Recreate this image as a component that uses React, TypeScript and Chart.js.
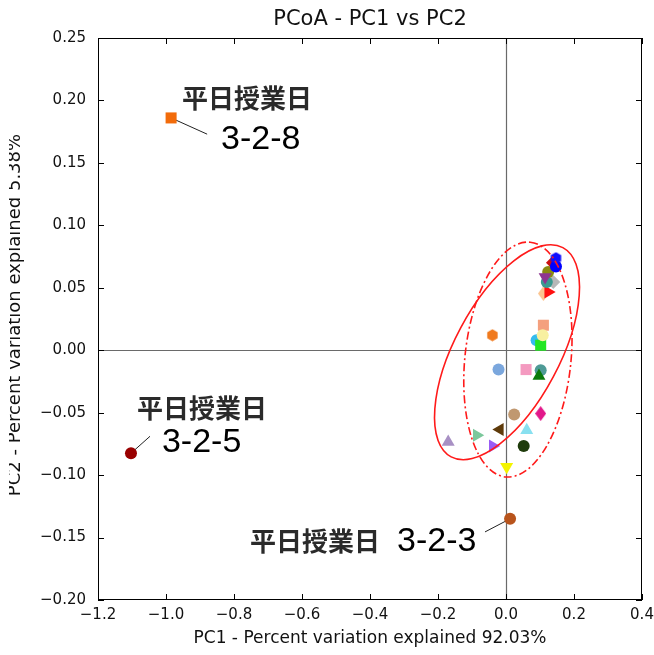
import React, { useEffect, useRef } from "react";
import { Chart, registerables } from "chart.js";

Chart.register(...registerables);

// PCoA coordinates of each sample (PC1, PC2)
const pc1 = [
  -0.985, -1.103, 0.012,
  0.090, 0.110, 0.102, 0.108,
  -0.040, -0.022, 0.059, 0.102, 0.097,
  0.102, 0.024, -0.018, 0.061, -0.086, -0.170, -0.039, 0.052, 0.002,
  0.110, 0.124, 0.139, 0.120, 0.124, 0.115, 0.138, 0.147, 0.147,
];
const pc2 = [
  0.186, -0.0825, -0.135,
  0.008, 0.020, 0.004, 0.012,
  0.012, -0.0155, -0.0155, -0.016, -0.0206,
  -0.0507, -0.0515, -0.0635, -0.064, -0.068, -0.0734, -0.0766, -0.0766, -0.0934,
  0.0454, 0.0467, 0.0547, 0.0547, 0.0627, 0.0587, 0.070, 0.067, 0.0737,
];

// marker colour, shape and rotation for each sample
const markerColors = [
  "#f26b0a", "#990000", "#b8541c",
  "#33bbee", "#f4a07e", "#22e622", "#f8f0a0",
  "#f07a1e", "#7ba7dd", "#f49ac0", "#4e9a96", "#0a7a0a",
  "#e2188a", "#c09870", "#5e3a0a", "#88e0f0", "#7cc89c", "#a890c4", "#9a5cf5", "#1f3c0c", "#f4f400",
  "#fcc590", "#ff1010", "#b8b8b8", "#3a9a90", "#8a8a10", "#8e3590", "#cc1010", "#0000ff", "#1010ff",
];
const markerShapes = [
  "rect", "circle", "circle",
  "circle", "rect", "rect", "circle",
  "hexagon", "circle", "rect", "circle", "triangle",
  "thinDiamond", "circle", "triangle", "triangle", "triangle", "triangle", "triangle", "circle", "triangle",
  "thinDiamond", "triangle", "rectRot", "circle", "circle", "triangle", "rectRot", "circle", "hexagon",
];
const markerRotations = [
  0, 0, 0,
  0, 0, 0, 0,
  0, 0, 0, 0, 0,
  0, 0, -90, 0, 90, 0, 90, 0, 180,
  0, 90, 0, 0, 0, 180, 0, 0, 0,
];

// axis ticks
const xTickValues = [-1.2, -1.0, -0.8, -0.6, -0.4, -0.2, 0.0, 0.2, 0.4];
const yTickValues = [-0.2, -0.15, -0.1, -0.05, 0.0, 0.05, 0.1, 0.15, 0.2, 0.25];

// text
const chartTitle = "PCoA - PC1 vs PC2";
const xAxisTitle = "PC1 - Percent variation explained 92.03%";
const yAxisTitle = "PC2 - Percent variation explained 5.38%";
const calloutCategory = "平日授業日";
const calloutIds = ["3-2-8", "3-2-5", "3-2-3"];
const calloutPoints = [0, 1, 2];

// callout placement in data units
const calloutLayout = [
  { cat: [-0.953, 0.2018], id: [-0.838, 0.169], lineEnd: [-0.879, 0.173] },
  { cat: [-1.085, -0.0464], id: [-1.012, -0.074], lineEnd: [-1.047, -0.0689] },
  { cat: [-0.753, -0.153], id: [-0.3206, -0.1532], lineEnd: [-0.0618, -0.1455] },
];

// confidence ellipses: centre in data units, radii in pixels, angle in degrees
const ellipses = [
  { center: [0.003, -0.0016], rx: 118.6, ry: 52.4, angle: -61.9, dash: [] as number[] },
  { center: [0.035, -0.0075], rx: 118, ry: 53, angle: -84, dash: [8, 3, 2, 3] },
];

const fmtTick = (v: number, digits: number) => {
  const s = Math.abs(v) < 1e-9 ? (0).toFixed(digits) : v.toFixed(digits);
  return s.replace("-", "\u2212");
};

function hexagonSprite(color: string, size: number) {
  const c = document.createElement("canvas");
  c.width = size;
  c.height = size;
  const g = c.getContext("2d")!;
  const r = size / 2;
  g.fillStyle = color;
  g.beginPath();
  for (let i = 0; i < 6; i++) {
    const a = (Math.PI / 3) * i + Math.PI / 6;
    const px = r + Math.cos(a) * (r - 0.5);
    const py = r + Math.sin(a) * (r - 0.5);
    if (i === 0) g.moveTo(px, py);
    else g.lineTo(px, py);
  }
  g.closePath();
  g.fill();
  return c;
}

function thinDiamondSprite(color: string, w: number, h: number) {
  const c = document.createElement("canvas");
  c.width = w;
  c.height = h;
  const g = c.getContext("2d")!;
  g.fillStyle = color;
  g.beginPath();
  g.moveTo(w / 2, 0);
  g.lineTo(w, h / 2);
  g.lineTo(w / 2, h);
  g.lineTo(0, h / 2);
  g.closePath();
  g.fill();
  return c;
}

const decorations = {
  id: "decorations",
  beforeDatasetsDraw(chart: any) {
    const { ctx, chartArea: a, scales } = chart;
    const x = scales.x;
    const y = scales.y;
    ctx.save();
    // zero lines
    ctx.strokeStyle = "#6a6a6a";
    ctx.lineWidth = 1.2;
    const x0 = Math.round(x.getPixelForValue(0)) + 0.5;
    const y0 = Math.round(y.getPixelForValue(0)) + 0.5;
    ctx.beginPath();
    ctx.moveTo(x0, a.top);
    ctx.lineTo(x0, a.bottom);
    ctx.moveTo(a.left, y0);
    ctx.lineTo(a.right, y0);
    ctx.stroke();
    // callout connectors
    ctx.strokeStyle = "#222";
    ctx.lineWidth = 1;
    calloutPoints.forEach((pi, i) => {
      const L = calloutLayout[i];
      ctx.beginPath();
      ctx.moveTo(x.getPixelForValue(pc1[pi]), y.getPixelForValue(pc2[pi]));
      ctx.lineTo(x.getPixelForValue(L.lineEnd[0]), y.getPixelForValue(L.lineEnd[1]));
      ctx.stroke();
    });
    ctx.restore();
  },
  afterDatasetsDraw(chart: any) {
    const { ctx, scales } = chart;
    ctx.save();
    ctx.strokeStyle = "#ff1a1a";
    ctx.lineWidth = 1.6;
    ellipses.forEach((e) => {
      const cx = scales.x.getPixelForValue(e.center[0]);
      const cy = scales.y.getPixelForValue(e.center[1]);
      ctx.setLineDash(e.dash);
      ctx.beginPath();
      ctx.ellipse(cx, cy, e.rx, e.ry, (e.angle * Math.PI) / 180, 0, Math.PI * 2);
      ctx.stroke();
    });
    ctx.restore();
  },
  afterDraw(chart: any) {
    const { ctx, chartArea: a, scales, width, height } = chart;
    const x = scales.x;
    const y = scales.y;
    ctx.save();
    // frame
    ctx.strokeStyle = "#000";
    ctx.lineWidth = 1;
    ctx.strokeRect(Math.round(a.left) + 0.5, Math.round(a.top) + 0.5,
      Math.round(a.right - a.left) - 1, Math.round(a.bottom - a.top) - 1);
    // inward tick marks on all four sides
    const tl = 6;
    ctx.beginPath();
    xTickValues.forEach((v) => {
      const px = Math.round(x.getPixelForValue(v)) + 0.5;
      ctx.moveTo(px, a.bottom);
      ctx.lineTo(px, a.bottom - tl);
      ctx.moveTo(px, a.top);
      ctx.lineTo(px, a.top + tl);
    });
    yTickValues.forEach((v) => {
      const py = Math.round(y.getPixelForValue(v)) + 0.5;
      ctx.moveTo(a.left, py);
      ctx.lineTo(a.left + tl, py);
      ctx.moveTo(a.right, py);
      ctx.lineTo(a.right - tl, py);
    });
    ctx.stroke();

    // titles
    ctx.fillStyle = "#111";
    ctx.textAlign = "center";
    ctx.textBaseline = "middle";
    ctx.font = "21px 'DejaVu Sans'";
    ctx.fillText(chartTitle, (a.left + a.right) / 2, 20);
    ctx.font = "17px 'DejaVu Sans'";
    ctx.fillText(xAxisTitle, (a.left + a.right) / 2, 639);

    ctx.save();
    ctx.beginPath();
    ctx.rect(9, 0, width, height);
    ctx.clip();
    ctx.translate(20, 315);
    ctx.rotate(-Math.PI / 2);
    ctx.textBaseline = "alphabetic";
    ctx.font = "18px 'DejaVu Sans'";
    ctx.fillText(yAxisTitle, 0, 0);
    ctx.restore();

    // callout labels
    ctx.textAlign = "left";
    ctx.textBaseline = "middle";
    calloutIds.forEach((id, i) => {
      const L = calloutLayout[i];
      ctx.fillStyle = "#2a2a2a";
      ctx.font = "bold 26px 'Noto Sans CJK JP'";
      ctx.fillText(calloutCategory, x.getPixelForValue(L.cat[0]), y.getPixelForValue(L.cat[1]));
      ctx.fillStyle = "#000";
      ctx.font = "34px 'Liberation Sans'";
      ctx.fillText(id, x.getPixelForValue(L.id[0]), y.getPixelForValue(L.id[1]));
    });
    ctx.restore();
  },
};

export default function App() {
  const canvasRef = useRef<HTMLCanvasElement | null>(null);

  useEffect(() => {
    const canvas = canvasRef.current;
    if (!canvas) return;

    const styles = markerShapes.map((s, i) => {
      if (s === "hexagon") return hexagonSprite(markerColors[i], 13);
      if (s === "thinDiamond") return thinDiamondSprite(markerColors[i], 11, 15);
      return s;
    });
    const radii = markerShapes.map((s) =>
      s === "rect" ? 7.8 : s === "triangle" ? 7.5 : s === "rectRot" ? 7 : 6
    );

    const chart = new Chart(canvas, {
      type: "scatter",
      data: {
        datasets: [
          {
            data: pc1.map((v, i) => ({ x: v, y: pc2[i] })),
            pointStyle: styles as any,
            pointRadius: radii,
            pointRotation: markerRotations,
            pointBackgroundColor: markerColors,
            pointBorderWidth: 0,
            pointBorderColor: markerColors,
          },
        ],
      },
      options: {
        responsive: false,
        animation: false,
        devicePixelRatio: 1,
        events: [],
        layout: { padding: { left: 0, top: 38, right: 12, bottom: 0 } },
        plugins: {
          legend: { display: false },
          tooltip: { enabled: false },
          title: { display: false },
        },
        scales: {
          x: {
            type: "linear",
            min: -1.2,
            max: 0.4,
            grid: { display: false, drawTicks: false },
            border: { display: false },
            ticks: {
              color: "#111",
              font: { family: "'DejaVu Sans'", size: 15 },
              padding: 6,
              maxRotation: 0,
              autoSkip: false,
              callback: (v: any) => fmtTick(Number(v), 1),
            },
            afterBuildTicks: (s: any) => {
              s.ticks = xTickValues.map((v) => ({ value: v }));
            },
            afterFit: (s: any) => {
              s.height = 55;
              s.paddingLeft = 0;
              s.paddingRight = 0;
            },
          },
          y: {
            type: "linear",
            min: -0.2,
            max: 0.25,
            grid: { display: false, drawTicks: false },
            border: { display: false },
            ticks: {
              color: "#111",
              font: { family: "'DejaVu Sans'", size: 15 },
              padding: 12,
              autoSkip: false,
              callback: (v: any) => fmtTick(Number(v), 2),
            },
            afterBuildTicks: (s: any) => {
              s.ticks = yTickValues.map((v) => ({ value: v }));
            },
            afterFit: (s: any) => {
              s.width = 98;
              s.paddingTop = 0;
              s.paddingBottom = 0;
            },
          },
        },
      },
      plugins: [decorations],
    });

    return () => chart.destroy();
  }, []);

  return (
    <div style={{ position: "fixed", left: 0, top: 0, width: 654, height: 655, background: "#fff" }}>
      <canvas ref={canvasRef} width={654} height={655} style={{ display: "block" }} />
    </div>
  );
}
